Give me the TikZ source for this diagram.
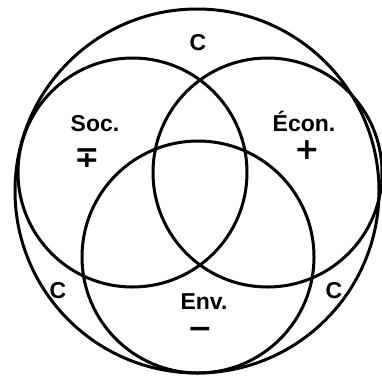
\documentclass[tikz,border=0pt]{standalone}
\usepackage{fontspec}
\setmainfont{Liberation Sans}
\newfontfamily\signfont{DejaVu Sans}
\begin{document}
\begin{tikzpicture}[x=1pt,y=-1pt,line width=3pt,
    lbl/.style={font=\bfseries\fontsize{23}{25}\selectfont,inner sep=0pt,anchor=base},
    sgn/.style={font=\signfont\bfseries\fontsize{30}{30}\selectfont,inner sep=0pt,
      anchor=base,text height=0.55em,text depth=0pt}]
  \useasboundingbox (0,0) rectangle (382,375);
  % the whole and its three parts
  \draw (197,191) circle (182pt);
  \draw (132.5,172.5) circle (114.5pt);
  \draw (267.5,172.5) circle (114.5pt);
  \draw (198,257) circle (116pt);
  % labels
  \node[lbl] (ctop) at (198,50) {C};
  \node[lbl] (cleft) at (58,298) {C};
  \node[lbl] (cright) at (334,298) {C};
  \node[lbl] (soc) at (95,131) {Soc.};
  \node[lbl] (econ) at (304,131) {Écon.};
  \node[lbl] (env) at (204,309) {Env.};
  \node[sgn] (socsign) at (87,167) {∓};
  \node[sgn] (econsign) at (307,159) {+};
  \node[sgn] (envsign) at (200,338) {−};
\end{tikzpicture}
\end{document}
